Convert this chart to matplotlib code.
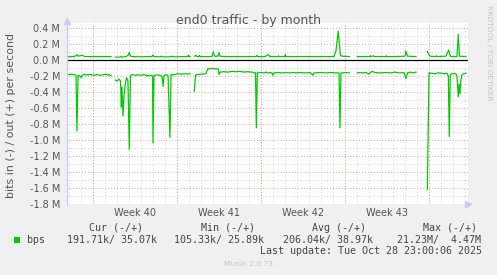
import numpy as np
import matplotlib
matplotlib.use('Agg')
import matplotlib.pyplot as plt
from matplotlib.patches import Rectangle

# days since the left edge of the graph window, traffic in Mbit/s
# None marks a hole in the data (nothing was collected)
out_days = [0, 0.42, 0.67, 0.83, 0.92, 1.08, 1.25, 1.42, 1.58, 2.33, 3.67, None,
            4.03, 4.42, 4.53, 4.58, 4.92, 5.08, 5.19, 5.29, 5.5, 5.83, 5.92, 6.0,
            7.08, 7.17, 7.25, 7.75, 7.86, 7.92, 8.58, 8.75, 8.83, 10.08, 10.11,
            10.17, 10.25, None,
            10.61, 10.75, 10.83, 11.0, 11.03, 11.08, 12.08, 12.19, 12.29, 12.58,
            12.67, 12.75, 13.17, 15.75, 15.81, 15.88, 16.5, 16.78, 16.92, 17.58,
            17.61, 17.67, 18.17, 18.19, 18.25, 19.42, 22.25, 22.42, 22.61, 22.71,
            22.79, 22.92, 23.53, None,
            24.19, 25.25, 25.28, 25.33, 25.53, 25.58, 26.58, 26.61, 26.67, 27.33,
            28.17, 28.25, 28.38, 29.08, None,
            30.03, 30.13, 30.25, 30.75, 30.78, 30.83, 31.58, 31.81, 31.92, 32.0,
            32.5, 32.61, 32.71, 33.25]
out_mbps = [0.044, 0.044, 0.05, 0.069, 0.05, 0.055, 0.06, 0.05, 0.045, 0.045, 0.044, None,
            0.038, 0.038, 0.05, 0.038, 0.045, 0.06, 0.098, 0.05, 0.045, 0.042, 0.05, 0.042,
            0.045, 0.066, 0.045, 0.042, 0.05, 0.042, 0.042, 0.05, 0.042, 0.045, 0.065,
            0.045, 0.044, None,
            0.05, 0.058, 0.045, 0.045, 0.06, 0.045, 0.045, 0.105, 0.05, 0.05,
            0.095, 0.05, 0.045, 0.045, 0.06, 0.045, 0.045, 0.072, 0.045, 0.045,
            0.055, 0.045, 0.045, 0.07, 0.045, 0.045, 0.045, 0.12, 0.366, 0.18,
            0.06, 0.05, 0.045, None,
            0.045, 0.045, 0.055, 0.045, 0.055, 0.045, 0.045, 0.055, 0.045, 0.045,
            0.05, 0.115, 0.05, 0.045, None,
            0.11, 0.075, 0.05, 0.045, 0.055, 0.045, 0.05, 0.127, 0.06, 0.045,
            0.045, 0.325, 0.05, 0.045]

in_days = [0, 0.25, 0.42, 0.67, 0.75, 0.83, 0.92, 1.08, 1.17, 1.25, 1.42, 1.75, 2.0,
           2.25, 2.5, 2.75, 3.0, 3.25, 3.42, 3.5, 3.67, None,
           4.03, 4.17, 4.33, 4.46, 4.53, 4.58, 4.67, 4.75, 4.86, 4.96, 5.08, 5.19,
           5.29, 5.42, 5.67, 5.92, 6.17, 6.42, 6.67, 6.92, 7.13, 7.17, 7.25, 7.5,
           7.75, 7.92, 8.0, 8.08, 8.25, 8.42, 8.58, 8.67, 8.92, 9.17, 9.5, 9.83,
           10.08, 10.25, None,
           10.61, 10.71, 10.92, 11.25, 11.58, 11.73, 12.08, 12.61, 12.67, 12.75,
           13.08, 13.42, 13.75, 14.08, 14.42, 14.75, 15.08, 15.42, 15.71, 15.78,
           15.86, 16.08, 16.42, 16.58, 16.75, 16.92, 17.08, 17.17, 17.25, 17.58,
           17.92, 18.25, 18.58, 18.83, 19.08, 19.42, 19.83, 20.25, 20.5, 20.58,
           21.08, 21.58, 21.92, 22.42, 22.67, 22.75, 22.83, 23.0, 23.25, 23.53, None,
           24.19, 24.42, 24.67, 24.92, 25.17, 25.25, 25.42, 25.67, 26.08, 26.5,
           26.92, 27.33, 27.75, 28.08, 28.25, 28.38, 28.58, 28.83, 29.08, None,
           30.03, 30.17, 30.42, 30.67, 30.92, 31.17, 31.42, 31.67, 31.78, 31.86,
           31.94, 32.08, 32.42, 32.5, 32.61, 32.69, 32.75, 32.83, 32.92, 33.08, 33.25]
in_mbps = [0.18, 0.18, 0.175, 0.185, 0.19, 0.89, 0.19, 0.2, 0.22, 0.19, 0.18, 0.185, 0.18,
           0.19, 0.18, 0.19, 0.185, 0.175, 0.19, 0.18, 0.195, None,
           0.25, 0.26, 0.24, 0.26, 0.59, 0.34, 0.70, 0.45, 0.3, 0.22, 0.26, 1.12,
           0.2, 0.18, 0.19, 0.185, 0.19, 0.18, 0.195, 0.19, 0.2, 1.04, 0.19, 0.185,
           0.19, 0.2, 0.33, 0.2, 0.18, 0.19, 0.97, 0.18, 0.185, 0.17, 0.175, 0.17,
           0.175, 0.17, None,
           0.39, 0.19, 0.18, 0.175, 0.17, 0.11, 0.105, 0.11, 0.18, 0.15,
           0.145, 0.15, 0.14, 0.145, 0.14, 0.15, 0.145, 0.15, 0.16, 0.85,
           0.16, 0.155, 0.16, 0.15, 0.16, 0.155, 0.16, 0.19, 0.16, 0.155,
           0.16, 0.155, 0.16, 0.155, 0.16, 0.155, 0.16, 0.155, 0.19, 0.16,
           0.155, 0.16, 0.155, 0.16, 0.16, 0.85, 0.16, 0.16, 0.155, 0.16, None,
           0.16, 0.155, 0.16, 0.155, 0.175, 0.16, 0.14, 0.155, 0.16, 0.155,
           0.16, 0.15, 0.16, 0.155, 0.23, 0.16, 0.15, 0.16, 0.15, None,
           1.62, 0.16, 0.165, 0.17, 0.16, 0.165, 0.17, 0.165, 0.2, 0.96,
           0.18, 0.17, 0.17, 0.2, 0.46, 0.3, 0.42, 0.25, 0.18, 0.17, 0.165]

week_starts = [2.17, 9.17, 16.17, 23.17, 30.17]
week_labels = ['Week 40', 'Week 41', 'Week 42', 'Week 43']

legend_heads = ['Cur (-/+)', 'Min (-/+)', 'Avg (-/+)', 'Max (-/+)']
legend_values = ['191.71k/ 35.07k', '105.33k/ 25.89k', '206.04k/ 38.97k', '21.23M/  4.47M']
last_update = 'Last update: Tue Oct 28 23:00:06 2025'

W, H = 497, 275
green = '#00cc00'
txt = '#555555'
mono = 'DejaVu Sans Mono'


def fx(px):
    return px / W


def fy(py):
    return 1 - py / H


def to_arr(v):
    return np.array([np.nan if a is None else a for a in v], dtype=float)


fig = plt.figure(figsize=(W / 100, H / 100), dpi=100, facecolor='#f0f0f0')
ax = fig.add_axes([fx(67), fy(203.5), fx(401), (203.5 - 23.3) / H])
ax.set_facecolor('white')
for s in ax.spines.values():
    s.set_visible(False)

ax.set_xlim(0, 33.42)
ax.set_ylim(-1.8, 0.463)

# grid: minor every 0.1 M / every day, major every 0.2 M / every week
for v in np.arange(-1.7, 0.45, 0.2):
    ax.axhline(v, color='#d4d4d4', lw=0.7, ls=(0, (1, 2)), zorder=1)
for v in np.arange(-1.8, 0.45, 0.2):
    if abs(v) > 1e-6:
        ax.axhline(v, color='#e3a0a0', lw=0.7, ls=(0, (1, 2)), zorder=1.5)
for d in np.arange(week_starts[0] - 2, 33.42, 1.0):
    ax.axvline(d, color='#d4d4d4', lw=0.7, ls=(0, (1, 2)), zorder=1)
for d in week_starts:
    ax.axvline(d, color='#e3a0a0', lw=0.7, ls=(0, (1, 2)), zorder=1.5)

ax.plot(to_arr(out_days), to_arr(out_mbps), color=green, lw=0.9, zorder=3)
ax.plot(to_arr(in_days), -to_arr(in_mbps), color=green, lw=0.9, zorder=3)
ax.axhline(0, color='black', lw=0.9, zorder=4)

# axis lines with arrows
ax.plot([0, 0], [0, 1.0], transform=ax.transAxes, color='#c8ccf0', lw=0.9, clip_on=False, zorder=5)
ax.plot([0], [1.01], transform=ax.transAxes, marker='^', ms=4, color='#c8ccf0', clip_on=False, zorder=5)
ax.plot([1.0], [0], transform=ax.transAxes, marker='>', ms=4, color='#c8ccf0', clip_on=False, zorder=5)

yt = np.round(np.arange(-1.8, 0.41, 0.2), 1)
ax.set_yticks(yt)
ax.set_yticklabels(['%.1f M' % (0.0 if abs(v) < 1e-6 else v) for v in yt])
ax.set_xticks([w + 3.5 for w in week_starts[:4]])
ax.set_xticklabels(week_labels)
ax.tick_params(axis='y', length=0, pad=4.8, labelsize=7, labelcolor=txt)
ax.tick_params(axis='x', length=0, pad=3.0, labelsize=7, labelcolor=txt)

fig.text(fx(248), fy(24), 'end0 traffic - by month', ha='center', va='baseline',
         fontsize=9, color=txt)
fig.text(fx(11), fy(116), 'bits in (-) / out (+) per second', rotation=90,
         ha='center', va='center', fontsize=7.9, color=txt)
fig.text(fx(488.5), fy(5), 'RRDTOOL / TOBI OETIKER', rotation=270, ha='center', va='top',
         fontsize=5.4, color='#c4c4c4')

# legend block
head_x = [89, 201, 312, 423]
val_x = [67, 174, 283, 397]
for x, s in zip(head_x, legend_heads):
    fig.text(fx(x), fy(228), s, ha='left', va='center', family=mono, fontsize=7.2, color='#444444')
for x, s in zip(val_x, legend_values):
    fig.text(fx(x), fy(240), s, ha='left', va='center', family=mono, fontsize=7.2, color='#444444')
fig.patches.append(Rectangle((fx(14), fy(243)), fx(5.5), 6 / H, transform=fig.transFigure,
                             facecolor=green, edgecolor='none'))
fig.text(fx(27), fy(240), 'bps', ha='left', va='center', family=mono, fontsize=7.2, color='#444444')
fig.text(fx(482.5), fy(250.5), last_update, ha='right', va='center', family=mono,
         fontsize=7.2, color='#444444')
fig.text(fx(248), fy(263.5), 'Munin 2.0.73', ha='center', va='center', fontsize=5.4,
         color='#c4c4c4')

fig.savefig('out.png', dpi=100, facecolor=fig.get_facecolor())
